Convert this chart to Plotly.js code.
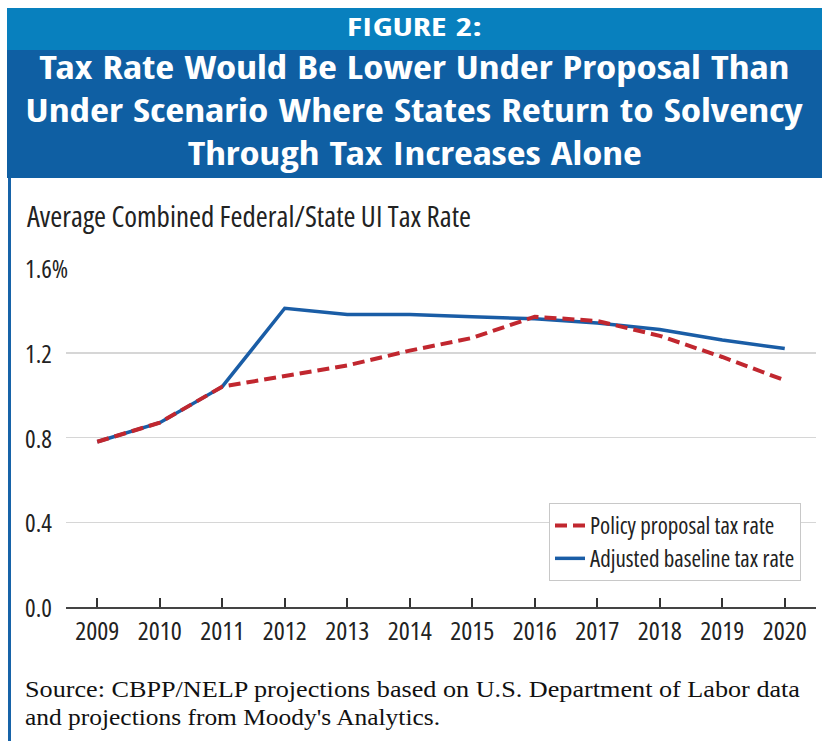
<!DOCTYPE html>
<html>
<head>
<meta charset="utf-8">
<script src="https://cdn.plot.ly/plotly-3.0.1.min.js"></script>
<style>
  html, body { margin:0; padding:0; background:#fff; }
  #wrap { position:relative; width:822px; height:741px; overflow:hidden; background:#fff; }
  #chart { position:absolute; left:0; top:0; width:822px; height:741px; }
  text { font-stretch: 75% !important; }
  #band1 { position:absolute; left:7px; top:8px; width:815px; height:42px; background:#0880be; }
  #band2 { position:absolute; left:7px; top:50px; width:815px; height:128px; background:#0f5fa3; }
  #leftline { position:absolute; left:8px; top:178px; width:3px; height:563px; background:#1763a8; }
  .hdr { position:absolute; left:7px; width:815px; text-align:center; color:#fff; white-space:nowrap;
         font-family:"Open Sans Condensed","Roboto Condensed",sans-serif; font-weight:700; }
  .hdr span { display:inline-block; transform-origin:center center; }
  .src { position:absolute; left:25px; font-family:"Liberation Serif",serif; font-size:23px; color:#111; white-space:nowrap; }
  .src span { display:inline-block; transform-origin:left center; }
</style>
</head>
<body>
<div id="wrap">
  <div id="chart"></div>
  <div id="band1"></div>
  <div id="band2"></div>
  <div id="leftline"></div>
  <div class="hdr" id="h0" style="top:8px;font-size:25px;line-height:36px"><span data-w="135">FIGURE 2:</span></div>
  <div class="hdr" id="h1" style="top:46px;font-size:32px;line-height:42px"><span data-w="750">Tax Rate Would Be Lower Under Proposal Than</span></div>
  <div class="hdr" id="h2" style="top:89px;font-size:32px;line-height:42px"><span data-w="777">Under Scenario Where States Return to Solvency</span></div>
  <div class="hdr" id="h3" style="top:132px;font-size:32px;line-height:42px"><span data-w="454">Through Tax Increases Alone</span></div>
  <div class="src" style="top:676px;line-height:28px"><span data-w="775">Source: CBPP/NELP projections based on U.S. Department of Labor data</span></div>
  <div class="src" style="top:704px;line-height:28px"><span data-w="415">and projections from Moody's Analytics.</span></div>
</div>
<script>
const years = [2009, 2010, 2011, 2012, 2013, 2014, 2015, 2016, 2017, 2018, 2019, 2020];
const policyRate = [0.78, 0.87, 1.04, 1.09, 1.14, 1.21, 1.27, 1.37, 1.35, 1.28, 1.18, 1.07];
const baselineRate = [0.78, 0.87, 1.04, 1.41, 1.38, 1.38, 1.37, 1.36, 1.34, 1.31, 1.26, 1.22];
const yTickVals = [0, 0.4, 0.8, 1.2, 1.6];
const yTickText = ["0.0", "0.4", "0.8", "1.2", "1.6%"];
const seriesNames = ["Policy proposal tax rate", "Adjusted baseline tax rate"];
const chartTitle = "Average Combined Federal/State UI Tax Rate";

// fit header / source text widths horizontally
document.querySelectorAll('span[data-w]').forEach(s => {
  const w = s.getBoundingClientRect().width;
  const target = +s.dataset.w;
  if (w > 0) s.style.transform = 'scaleX(' + (target / w) + ')';
});

const condFont = '"Open Sans","Roboto Condensed",sans-serif';

const traces = [
  { x: years, y: baselineRate, name: seriesNames[1], type: 'scatter', mode: 'lines',
    line: { color: '#1a5da6', width: 3.5 }, legendrank: 2 },
  { x: years, y: policyRate, name: seriesNames[0], type: 'scatter', mode: 'lines',
    line: { color: '#c1272f', width: 4, dash: '12px,6px' }, legendrank: 1 }
];

const annotations = yTickVals.map((v, i) => ({
  x: -0.056, xref: 'paper', xanchor: 'left', y: v, yref: 'y', yanchor: 'middle',
  text: yTickText[i], showarrow: false, borderpad: 0,
  bgcolor: i === yTickVals.length - 1 ? '#fff' : 'rgba(0,0,0,0)',
  font: { family: condFont, size: 25, color: '#222' }
}));

const layout = {
  width: 822, height: 741,
  margin: { l: 66, r: 6, t: 268, b: 134 },
  paper_bgcolor: 'rgba(0,0,0,0)', plot_bgcolor: '#fff',
  title: { text: chartTitle, xref: 'container', yref: 'container', x: 27/822, xanchor: 'left',
           y: 1 - 217/741, yanchor: 'middle', font: { family: condFont, size: 29, color: '#222' } },
  xaxis: { range: [2008.5, 2020.5], tickvals: years, ticktext: years.map(String),
           ticks: 'inside', ticklen: 9, tickwidth: 2, tickcolor: '#333',
           showline: true, linecolor: '#444', linewidth: 2, showgrid: false, zeroline: false,
           tickfont: { family: condFont, size: 26, color: '#222' } },
  yaxis: { range: [0, 1.6], tickvals: yTickVals, showticklabels: false, ticks: '',
           showgrid: true, gridcolor: '#d6d6d6', gridwidth: 1.5, zeroline: false, showline: false },
  showlegend: true,
  legend: { x: 0.98, y: 0.3068, xanchor: 'right', yanchor: 'top', bgcolor: '#fff',
            bordercolor: '#c8c8c8', borderwidth: 1, tracegroupgap: 0,
            font: { family: condFont, size: 23, color: '#222' } },
  annotations: annotations
};

Plotly.newPlot('chart', traces, layout, { displayModeBar: false, staticPlot: true });
</script>
</body>
</html>
